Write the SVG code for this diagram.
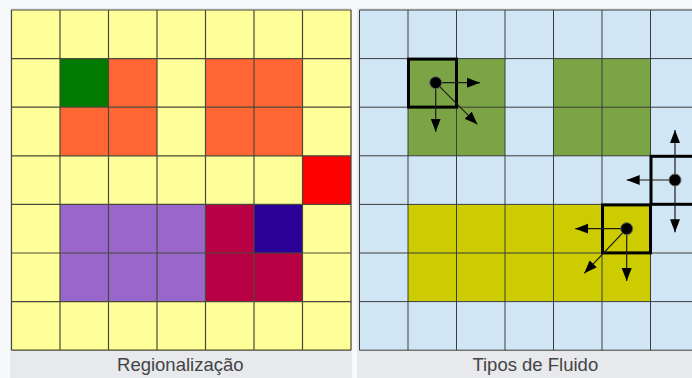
<svg xmlns="http://www.w3.org/2000/svg" width="692" height="378" viewBox="0 0 692 378">
<style>
.grid{stroke:#4a4a3a;stroke-width:1.2;fill:none}
.gridR{stroke:#3c3c3c;stroke-width:1;fill:none}
.cap{font-family:"Liberation Sans",Arial,sans-serif;font-size:18.5px;fill:#444;text-anchor:middle}
.Y{fill:#ffff99}.G{fill:#007b00}.O{fill:#ff6633}.R{fill:#ff0000}.P{fill:#9966cc}.C{fill:#b80045}.B{fill:#2a0099}
.LB{fill:#d0e6f4}.GR{fill:#7ba445}.OL{fill:#cccc00}
.box{fill:none;stroke:#000;stroke-width:3}
.arr{stroke:#1a1a1a;stroke-width:1.2;fill:none;marker-end:url(#ah)}
.dot{fill:#000;stroke:#666;stroke-width:1}
</style>
<defs>
<marker id="ah" markerUnits="userSpaceOnUse" markerWidth="14" markerHeight="12" refX="13" refY="5" orient="auto" viewBox="0 0 14 10">
<path d="M0,0 L13,5 L0,10 Z" fill="#000"/>
</marker>
</defs>
<rect width="692" height="378" fill="#f8f9fa"/>
<rect x="10" y="8" width="342" height="370" fill="#e7e9ec"/>
<rect x="357" y="8" width="335" height="370" fill="#e7e9ec"/>

<g id="regionalizacao">
<rect class="Y" x="11.5" y="10" width="339.5" height="340.2"/>
<rect class="G" x="60" y="58.6" width="48.5" height="48.6"/>
<rect class="O" x="108.5" y="58.6" width="48.5" height="48.6"/>
<rect class="O" x="205.5" y="58.6" width="97" height="97.2"/>
<rect class="O" x="60" y="107.2" width="97" height="48.6"/>
<rect class="R" x="302.5" y="155.8" width="48.5" height="48.6"/>
<rect class="P" x="60" y="204.4" width="145.5" height="97.2"/>
<rect class="C" x="205.5" y="204.4" width="48.5" height="97.2"/>
<rect class="B" x="254" y="204.4" width="48.5" height="48.6"/>
<rect class="C" x="254" y="253" width="48.5" height="48.6"/>
<path class="grid" d="M11.5,10V350.2M60,10V350.2M108.5,10V350.2M157,10V350.2M205.5,10V350.2M254,10V350.2M302.5,10V350.2M351,10V350.2M11.5,10H351M11.5,58.6H351M11.5,107.2H351M11.5,155.8H351M11.5,204.4H351M11.5,253H351M11.5,301.6H351M11.5,350.2H351"/>
<text class="cap" x="180.3" y="370.7">Regionalização</text>
</g>

<g id="tipos-de-fluido">
<rect class="LB" x="359.5" y="10" width="340" height="340.2"/>
<rect class="GR" x="408" y="58.6" width="97" height="97.2"/>
<rect class="GR" x="553.5" y="58.6" width="97" height="97.2"/>
<rect class="OL" x="408" y="204.4" width="242.5" height="97.2"/>
<path class="gridR" d="M359.5,10V350.2M408,10V350.2M456.5,10V350.2M505,10V350.2M553.5,10V350.2M602,10V350.2M650.5,10V350.2M359.5,10H699M359.5,58.6H699M359.5,107.2H699M359.5,155.8H699M359.5,204.4H699M359.5,253H699M359.5,301.6H699M359.5,350.2H699"/>
<text class="cap" x="535.3" y="370.7">Tipos de Fluido</text>
</g>

<g id="cell-a">
<rect class="box" x="408.5" y="59.1" width="48" height="48"/>
</g>
<g id="cell-b">
<rect class="box" x="602.5" y="204.9" width="48" height="48"/>
</g>
<g id="cell-c">
<rect class="box" x="651" y="156.3" width="48" height="48"/>
</g>

<g id="connectors">
<line class="arr" x1="435.7" y1="82.7" x2="480" y2="82.7"/>
<line class="arr" x1="435.7" y1="82.7" x2="435.7" y2="131.7"/>
<line class="arr" x1="435.7" y1="82.7" x2="477.3" y2="124.3"/>
<line class="arr" x1="626.7" y1="228.7" x2="575.3" y2="228.7"/>
<line class="arr" x1="626.7" y1="228.7" x2="626.7" y2="281"/>
<line class="arr" x1="626.7" y1="228.7" x2="584.3" y2="273.3"/>
<line class="arr" x1="675" y1="180" x2="675" y2="130"/>
<line class="arr" x1="675" y1="180" x2="626.7" y2="180"/>
<line class="arr" x1="675" y1="180" x2="675" y2="232.3"/>
</g>
<g id="dots">
<circle class="dot" cx="435.7" cy="82.7" r="6"/>
<circle class="dot" cx="626.7" cy="228.7" r="6"/>
<circle class="dot" cx="675" cy="180" r="6"/>
</g>
</svg>
